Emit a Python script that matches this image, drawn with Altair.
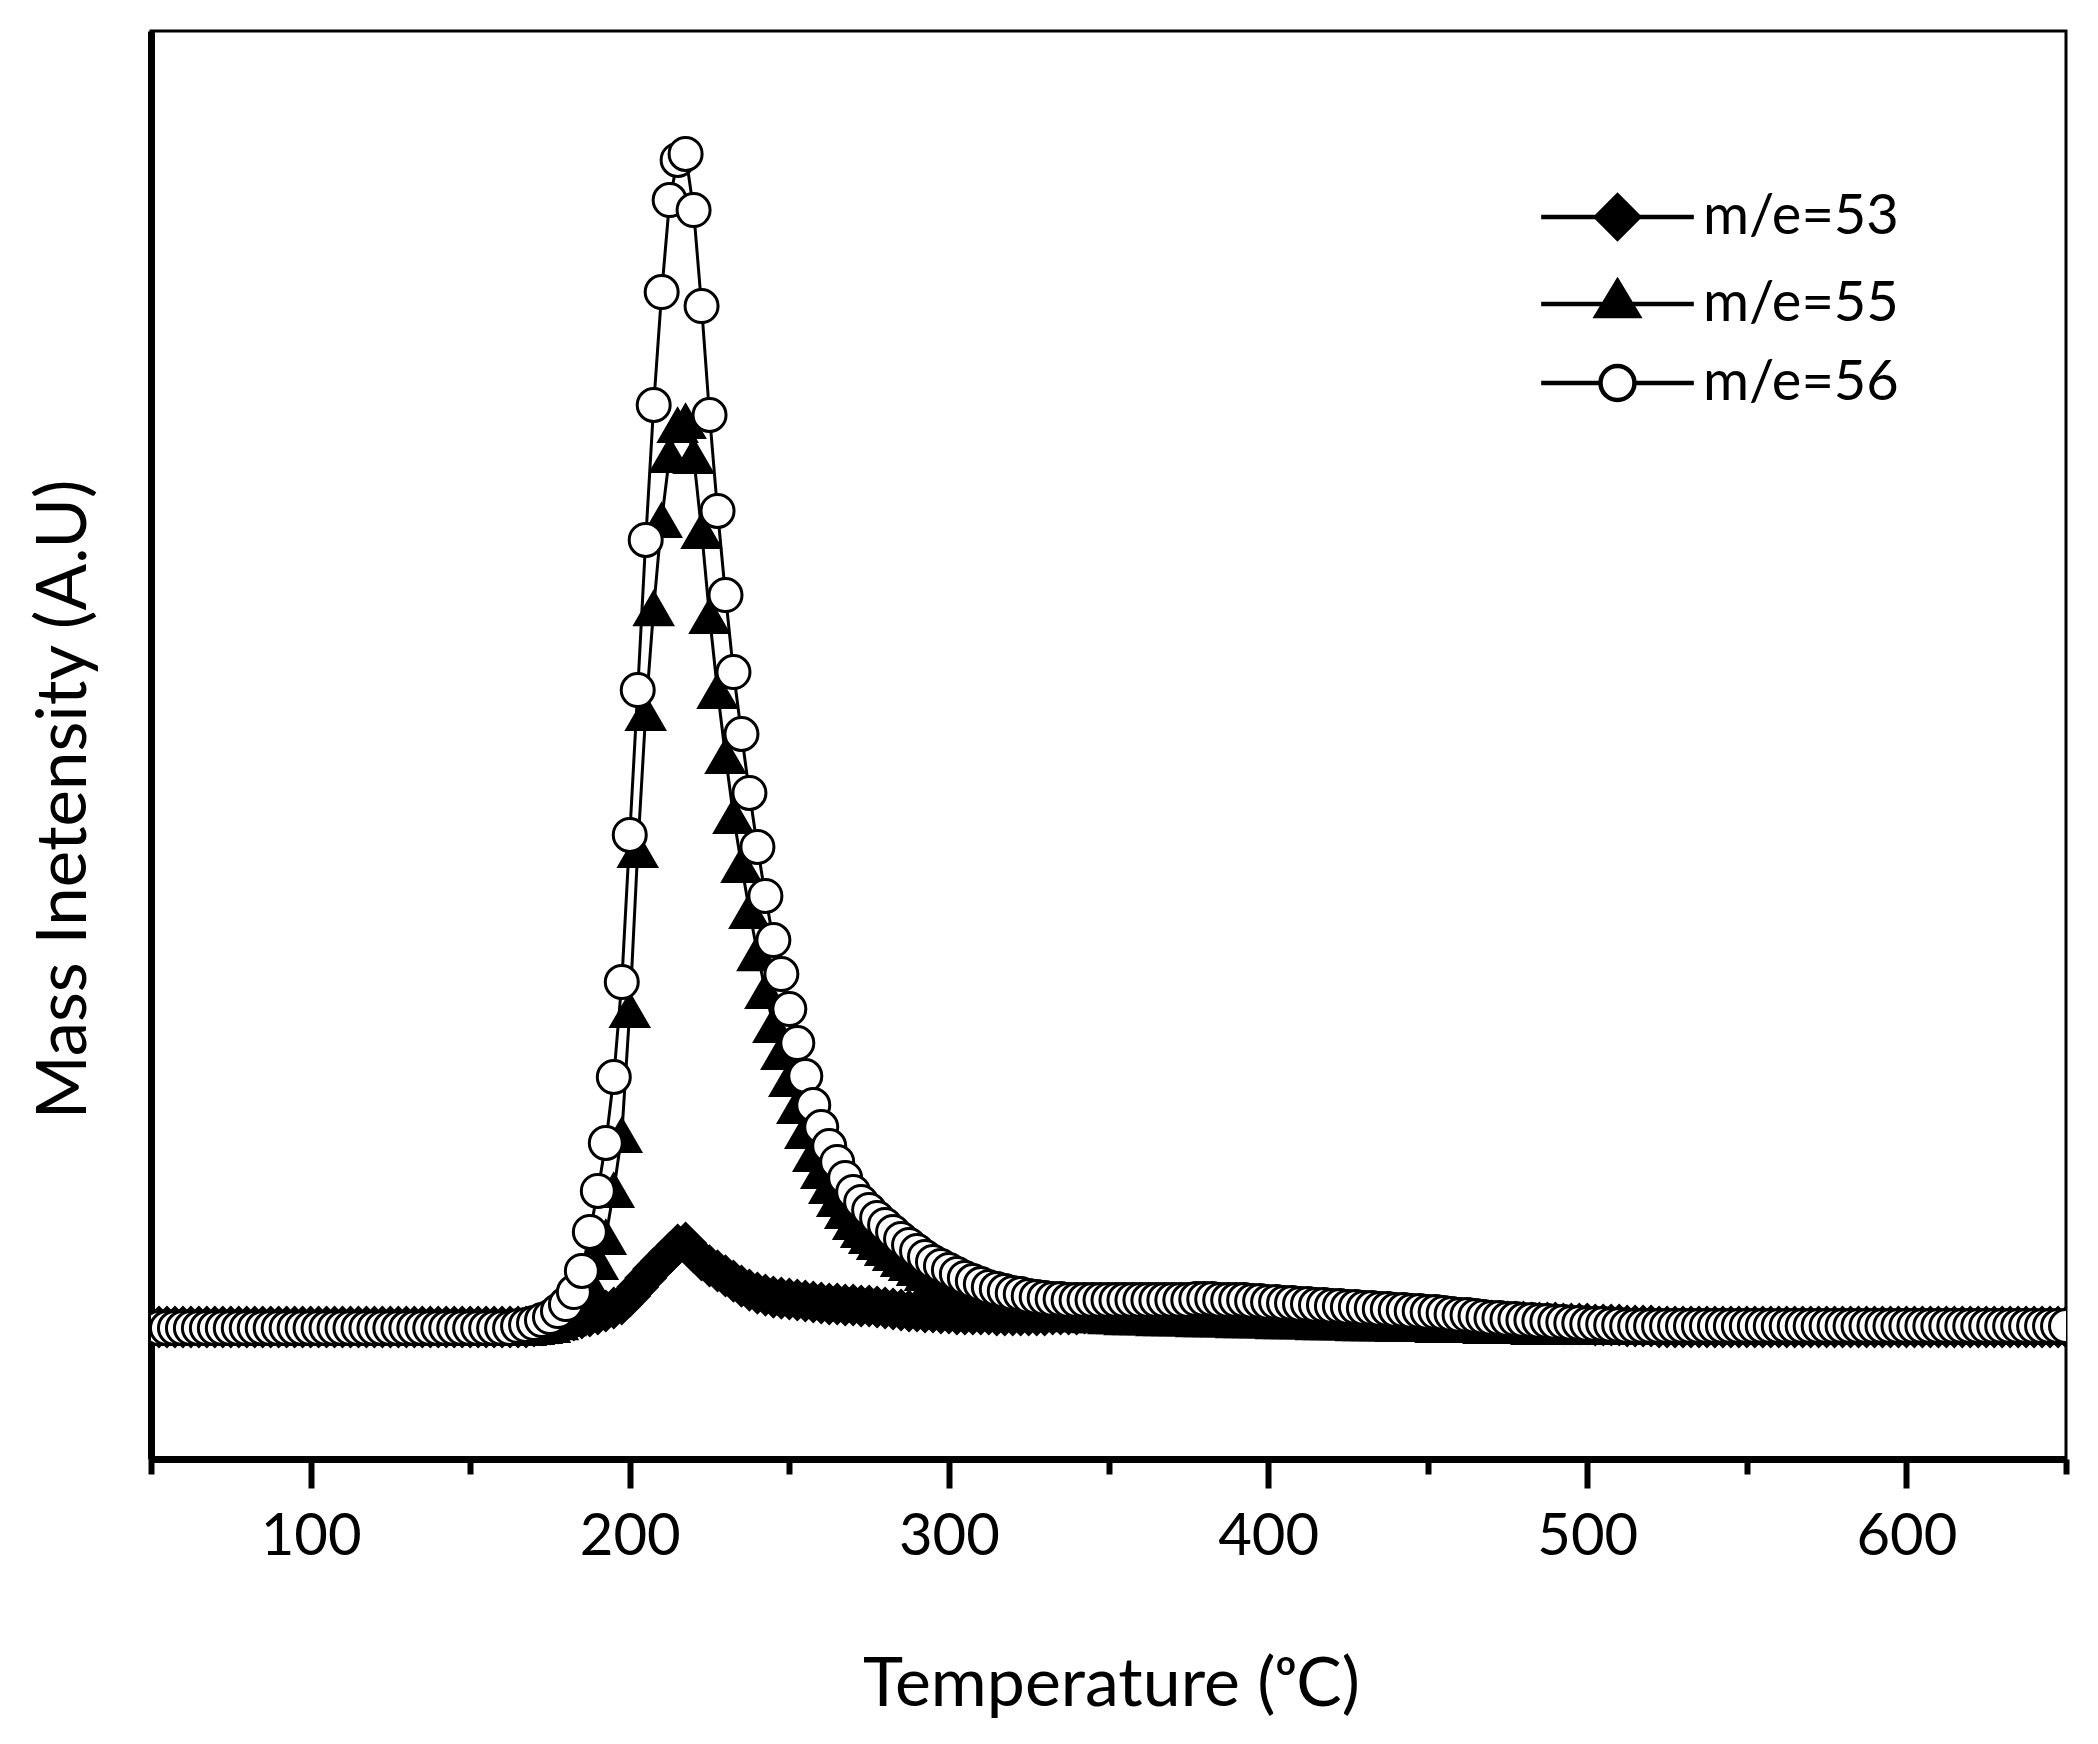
import altair as alt
import pandas as pd

FONT = "Lato"
SERIES = ["m/e=53", "m/e=55", "m/e=56"]

temperature = [
    50.0, 52.5, 55.0, 57.5, 60.0, 62.5, 65.0, 67.5, 70.0, 72.5,
    75.0, 77.5, 80.0, 82.5, 85.0, 87.5, 90.0, 92.5, 95.0, 97.5,
    100.0, 102.5, 105.0, 107.5, 110.0, 112.5, 115.0, 117.5, 120.0, 122.5,
    125.0, 127.5, 130.0, 132.5, 135.0, 137.5, 140.0, 142.5, 145.0, 147.5,
    150.0, 152.5, 155.0, 157.5, 160.0, 162.5, 165.0, 167.5, 170.0, 172.5,
    175.0, 177.5, 180.0, 182.5, 185.0, 187.5, 190.0, 192.5, 195.0, 197.5,
    200.0, 202.5, 205.0, 207.5, 210.0, 212.5, 215.0, 217.5, 220.0, 222.5,
    225.0, 227.5, 230.0, 232.5, 235.0, 237.5, 240.0, 242.5, 245.0, 247.5,
    250.0, 252.5, 255.0, 257.5, 260.0, 262.5, 265.0, 267.5, 270.0, 272.5,
    275.0, 277.5, 280.0, 282.5, 285.0, 287.5, 290.0, 292.5, 295.0, 297.5,
    300.0, 302.5, 305.0, 307.5, 310.0, 312.5, 315.0, 317.5, 320.0, 322.5,
    325.0, 327.5, 330.0, 332.5, 335.0, 337.5, 340.0, 342.5, 345.0, 347.5,
    350.0, 352.5, 355.0, 357.5, 360.0, 362.5, 365.0, 367.5, 370.0, 372.5,
    375.0, 377.5, 380.0, 382.5, 385.0, 387.5, 390.0, 392.5, 395.0, 397.5,
    400.0, 402.5, 405.0, 407.5, 410.0, 412.5, 415.0, 417.5, 420.0, 422.5,
    425.0, 427.5, 430.0, 432.5, 435.0, 437.5, 440.0, 442.5, 445.0, 447.5,
    450.0, 452.5, 455.0, 457.5, 460.0, 462.5, 465.0, 467.5, 470.0, 472.5,
    475.0, 477.5, 480.0, 482.5, 485.0, 487.5, 490.0, 492.5, 495.0, 497.5,
    500.0, 502.5, 505.0, 507.5, 510.0, 512.5, 515.0, 517.5, 520.0, 522.5,
    525.0, 527.5, 530.0, 532.5, 535.0, 537.5, 540.0, 542.5, 545.0, 547.5,
    550.0, 552.5, 555.0, 557.5, 560.0, 562.5, 565.0, 567.5, 570.0, 572.5,
    575.0, 577.5, 580.0, 582.5, 585.0, 587.5, 590.0, 592.5, 595.0, 597.5,
    600.0, 602.5, 605.0, 607.5, 610.0, 612.5, 615.0, 617.5, 620.0, 622.5,
    625.0, 627.5, 630.0, 632.5, 635.0, 637.5, 640.0, 642.5, 645.0, 647.5,
    650.0,
]

# m/e=53 (filled diamonds)
me53 = [
    9.24, 9.24, 9.24, 9.24, 9.24, 9.24, 9.24, 9.24, 9.24, 9.24,
    9.24, 9.24, 9.24, 9.24, 9.24, 9.24, 9.24, 9.24, 9.24, 9.24,
    9.24, 9.24, 9.24, 9.24, 9.24, 9.24, 9.24, 9.24, 9.24, 9.24,
    9.24, 9.24, 9.24, 9.24, 9.24, 9.24, 9.24, 9.24, 9.24, 9.24,
    9.24, 9.24, 9.24, 9.24, 9.24, 9.24, 9.24, 9.24, 9.31, 9.38,
    9.45, 9.52, 9.66, 9.73, 9.87, 10.01, 10.15, 10.36, 10.57, 10.85,
    11.41, 12.04, 12.68, 13.31, 13.87, 14.43, 14.99, 15.13, 14.50, 13.94,
    13.52, 13.17, 12.82, 12.46, 12.11, 11.83, 11.62, 11.48, 11.34, 11.27,
    11.20, 11.13, 11.06, 10.99, 10.92, 10.85, 10.85, 10.78, 10.78, 10.71,
    10.71, 10.64, 10.57, 10.50, 10.43, 10.36, 10.36, 10.29, 10.29, 10.22,
    10.22, 10.15, 10.15, 10.15, 10.15, 10.15, 10.08, 10.08, 10.08, 10.08,
    10.08, 10.08, 10.08, 10.15, 10.15, 10.15, 10.15, 10.22, 10.22, 10.22,
    10.22, 10.29, 10.29, 10.29, 10.29, 10.36, 10.36, 10.36, 10.36, 10.36,
    10.36, 10.36, 10.36, 10.36, 10.36, 10.36, 10.36, 10.36, 10.36, 10.36,
    10.36, 10.29, 10.29, 10.29, 10.22, 10.22, 10.22, 10.15, 10.15, 10.15,
    10.01, 10.01, 10.01, 9.94, 9.94, 9.94, 9.94, 9.87, 9.87, 9.87,
    9.87, 9.80, 9.80, 9.80, 9.80, 9.66, 9.66, 9.66, 9.66, 9.59,
    9.59, 9.59, 9.59, 9.52, 9.52, 9.52, 9.52, 9.45, 9.45, 9.45,
    9.45, 9.38, 9.38, 9.38, 9.38, 9.31, 9.31, 9.31, 9.31, 9.24,
    9.24, 9.24, 9.24, 9.24, 9.24, 9.24, 9.24, 9.24, 9.24, 9.24,
    9.24, 9.24, 9.24, 9.24, 9.24, 9.24, 9.24, 9.24, 9.24, 9.24,
    9.24, 9.24, 9.24, 9.24, 9.24, 9.24, 9.24, 9.24, 9.24, 9.24,
    9.24, 9.24, 9.24, 9.24, 9.24, 9.24, 9.24, 9.24, 9.24, 9.24,
    9.24, 9.24, 9.24, 9.24, 9.24, 9.24, 9.24, 9.24, 9.24, 9.24,
    9.24,
]

# m/e=55 (filled triangles)
me55 = [
    9.17, 9.17, 9.17, 9.17, 9.17, 9.17, 9.17, 9.17, 9.17, 9.17,
    9.17, 9.17, 9.17, 9.17, 9.17, 9.17, 9.17, 9.17, 9.17, 9.17,
    9.17, 9.17, 9.17, 9.17, 9.17, 9.17, 9.17, 9.17, 9.17, 9.17,
    9.17, 9.17, 9.17, 9.17, 9.17, 9.17, 9.17, 9.17, 9.17, 9.17,
    9.17, 9.17, 9.17, 9.17, 9.17, 9.17, 9.17, 9.17, 9.24, 9.31,
    9.38, 9.59, 9.87, 10.43, 11.27, 12.32, 13.80, 15.55, 18.84, 22.69,
    31.44, 42.65, 52.24, 59.59, 65.76, 70.31, 72.41, 72.69, 70.24, 64.99,
    59.03, 53.78, 49.23, 45.03, 41.60, 38.38, 35.43, 32.77, 30.39, 28.50,
    26.61, 24.72, 22.97, 21.36, 20.17, 19.12, 18.21, 17.37, 16.60, 16.04,
    15.62, 15.20, 14.78, 14.43, 14.01, 13.73, 13.38, 13.03, 12.75, 12.46,
    12.18, 11.90, 11.69, 11.48, 11.27, 11.13, 10.99, 10.85, 10.71, 10.64,
    10.57, 10.50, 10.43, 10.36, 10.29, 10.22, 10.15, 10.15, 10.08, 10.08,
    10.01, 10.01, 9.94, 9.94, 9.94, 9.94, 9.87, 9.87, 9.87, 9.87,
    9.87, 9.80, 9.80, 9.80, 9.80, 9.80, 9.73, 9.73, 9.73, 9.73,
    9.73, 9.66, 9.66, 9.66, 9.66, 9.66, 9.59, 9.59, 9.59, 9.59,
    9.59, 9.52, 9.52, 9.52, 9.52, 9.52, 9.45, 9.45, 9.45, 9.45,
    9.45, 9.38, 9.38, 9.38, 9.38, 9.38, 9.38, 9.31, 9.31, 9.31,
    9.31, 9.31, 9.31, 9.24, 9.24, 9.24, 9.24, 9.24, 9.24, 9.24,
    9.24, 9.24, 9.24, 9.24, 9.24, 9.24, 9.24, 9.24, 9.24, 9.24,
    9.24, 9.24, 9.24, 9.24, 9.24, 9.24, 9.24, 9.24, 9.24, 9.24,
    9.24, 9.24, 9.24, 9.24, 9.24, 9.24, 9.24, 9.24, 9.24, 9.24,
    9.24, 9.24, 9.24, 9.24, 9.24, 9.24, 9.24, 9.24, 9.24, 9.24,
    9.24, 9.24, 9.24, 9.24, 9.24, 9.24, 9.24, 9.24, 9.24, 9.24,
    9.24, 9.24, 9.24, 9.24, 9.24, 9.24, 9.24, 9.24, 9.24, 9.24,
    9.24,
]

# m/e=56 (open circles)
me56 = [
    9.17, 9.17, 9.17, 9.17, 9.17, 9.17, 9.17, 9.17, 9.17, 9.17,
    9.17, 9.17, 9.17, 9.17, 9.17, 9.17, 9.17, 9.17, 9.17, 9.17,
    9.17, 9.17, 9.17, 9.17, 9.17, 9.17, 9.17, 9.17, 9.17, 9.17,
    9.17, 9.17, 9.17, 9.17, 9.17, 9.17, 9.17, 9.17, 9.17, 9.17,
    9.17, 9.17, 9.17, 9.17, 9.17, 9.17, 9.31, 9.38, 9.52, 9.73,
    9.94, 10.36, 10.85, 11.69, 13.17, 15.90, 18.77, 22.13, 26.75, 33.40,
    43.70, 53.85, 64.36, 73.81, 81.72, 88.16, 90.97, 91.39, 87.46, 80.74,
    73.11, 66.39, 60.50, 55.11, 50.77, 46.64, 42.86, 39.43, 36.34, 33.96,
    31.51, 29.13, 26.82, 24.79, 23.25, 21.92, 20.80, 19.68, 18.70, 18.00,
    17.44, 16.88, 16.39, 15.90, 15.41, 14.99, 14.57, 14.15, 13.80, 13.52,
    13.24, 12.96, 12.68, 12.46, 12.25, 12.04, 11.90, 11.76, 11.62, 11.55,
    11.41, 11.34, 11.27, 11.20, 11.20, 11.13, 11.13, 11.13, 11.13, 11.13,
    11.13, 11.13, 11.13, 11.13, 11.13, 11.13, 11.13, 11.13, 11.13, 11.13,
    11.13, 11.20, 11.20, 11.20, 11.13, 11.13, 11.13, 11.13, 11.06, 11.06,
    10.99, 10.99, 10.92, 10.92, 10.85, 10.85, 10.78, 10.78, 10.71, 10.71,
    10.64, 10.64, 10.57, 10.57, 10.50, 10.50, 10.43, 10.43, 10.36, 10.36,
    10.29, 10.29, 10.22, 10.15, 10.08, 10.08, 10.01, 9.94, 9.87, 9.87,
    9.80, 9.80, 9.73, 9.73, 9.66, 9.66, 9.59, 9.59, 9.52, 9.52,
    9.45, 9.45, 9.45, 9.38, 9.38, 9.31, 9.31, 9.31, 9.31, 9.31,
    9.31, 9.31, 9.31, 9.31, 9.31, 9.31, 9.31, 9.31, 9.31, 9.31,
    9.31, 9.31, 9.31, 9.31, 9.31, 9.31, 9.31, 9.31, 9.31, 9.31,
    9.31, 9.31, 9.31, 9.31, 9.31, 9.31, 9.31, 9.31, 9.31, 9.31,
    9.31, 9.31, 9.31, 9.31, 9.31, 9.31, 9.31, 9.31, 9.31, 9.31,
    9.31, 9.31, 9.31, 9.31, 9.31, 9.31, 9.31, 9.31, 9.31, 9.31,
    9.31,
]

major_ticks = [100, 200, 300, 400, 500, 600]
minor_ticks = [50, 150, 250, 350, 450, 550, 650]

# per-series marker look, as in the original Origin plot
MARKERS = {
    "m/e=53": {"shape": "diamond", "fill": "black", "size": 1681, "strokeWidth": 1.5},
    "m/e=55": {"shape": "triangle-up", "fill": "black", "size": 1600, "strokeWidth": 1.5},
    "m/e=56": {"shape": "circle", "fill": "white", "size": 1089, "strokeWidth": 3},
}

# legend glyphs: short line segment with the marker in the middle
LEGEND_PATHS = [
    "M-3.55,0L3.55,0M-1,0L0,-1L1,0L0,1Z",
    "M-3.55,0L3.55,0M0,-1.07L0.98,0.56L-0.98,0.56Z",
    "M-3.55,0L-0.79,0M0.79,0L3.55,0M-0.79,0A0.79,0.79,0,1,1,0.79,0A0.79,0.79,0,1,1,-0.79,0Z",
]


def build_frame() -> pd.DataFrame:
    parts = []
    for name, values in zip(SERIES, [me53, me55, me56]):
        assert len(values) == len(temperature), name
        parts.append(pd.DataFrame({"temperature": temperature, "intensity": values, "series": name}))
    return pd.concat(parts, ignore_index=True)


def build_chart(frame: pd.DataFrame) -> alt.LayerChart:
    x_scale = alt.Scale(domain=[50, 650], nice=False, zero=False)
    y_scale = alt.Scale(domain=[0, 100], nice=False, zero=False)

    major_axis = alt.Axis(
        orient="bottom", values=major_ticks, format="d", grid=False,
        domainColor="black", domainWidth=7,
        tickColor="black", tickSize=29, tickWidth=6,
        labelFont=FONT, labelFontSize=58, labelColor="black", labelPadding=20, labelFlush=False,
        title="Temperature (ᵒC)", titleFont=FONT, titleFontSize=68, titleFontWeight="normal",
        titleColor="black", titleX=960, titleY=246, titleAlign="center", titleBaseline="alphabetic",
    )
    minor_axis = alt.Axis(
        orient="bottom", values=minor_ticks, grid=False, domain=False, labels=False,
        tickColor="black", tickSize=15, tickWidth=6, title=None,
    )
    y_axis = alt.Axis(
        orient="left", grid=False, ticks=False, labels=False,
        domainColor="black", domainWidth=7,
        title="Mass Inetensity (A.U)", titleFont=FONT, titleFontSize=69, titleFontWeight="normal",
        titleColor="black", titleAngle=270, titleX=-66, titleY=768,
        titleAlign="center", titleBaseline="alphabetic",
    )

    x_enc = alt.X("temperature:Q", scale=x_scale, axis=major_axis)
    y_enc = alt.Y("intensity:Q", scale=y_scale, axis=y_axis)

    layers = []
    for name in SERIES:
        style = MARKERS[name]
        base = alt.Chart(frame).transform_filter(alt.datum.series == name).encode(x=x_enc, y=y_enc)
        layers.append(base.mark_line(color="black", strokeWidth=3, clip=True))
        layers.append(
            base.mark_point(
                shape=style["shape"], filled=True, fill=style["fill"], stroke="black",
                strokeWidth=style["strokeWidth"], size=style["size"], opacity=1, clip=True,
            )
        )
    data_layers = alt.layer(*layers)

    minor = (
        alt.Chart(pd.DataFrame({"temperature": minor_ticks}))
        .mark_point(opacity=0)
        .encode(x=alt.X("temperature:Q", scale=x_scale, axis=minor_axis))
    )

    legend = alt.Legend(
        title=None, orient="none", legendX=1438.5, legendY=158, padding=0,
        labelFont=FONT, labelFontSize=56, labelColor="black", labelOffset=57.5, labelLimit=400,
        symbolSize=1849, symbolStrokeColor="black", symbolStrokeWidth=4.5, symbolOpacity=1,
        rowPadding=23,
    )
    legend_layer = (
        alt.Chart(pd.DataFrame({"series": SERIES}))
        .mark_point(filled=True, opacity=0, size=1849)
        .encode(
            shape=alt.Shape("series:N", scale=alt.Scale(domain=SERIES, range=LEGEND_PATHS), legend=legend),
            fill=alt.Fill("series:N", scale=alt.Scale(domain=SERIES, range=["black", "black", "white"]), legend=legend),
            stroke=alt.Stroke("series:N", scale=alt.Scale(domain=SERIES, range=["black", "black", "black"]), legend=legend),
            strokeWidth=alt.StrokeWidth("series:N", scale=alt.Scale(domain=SERIES, range=[4.5, 4.5, 4.5]), legend=legend),
        )
    )

    return (
        alt.layer(data_layers, minor, legend_layer)
        .resolve_axis(x="independent")
        .properties(
            width=1915,
            height=1428,
            autosize=alt.AutoSizeParams(type="none"),
            padding={"left": 143, "top": 23, "right": 24, "bottom": 277},
            background="white",
        )
        .configure_view(stroke="black", strokeWidth=3)
    )


def main() -> None:
    chart = build_chart(build_frame())
    chart.save("out.html", embed_options={"renderer": "svg", "actions": False})


if __name__ == "__main__":
    main()
